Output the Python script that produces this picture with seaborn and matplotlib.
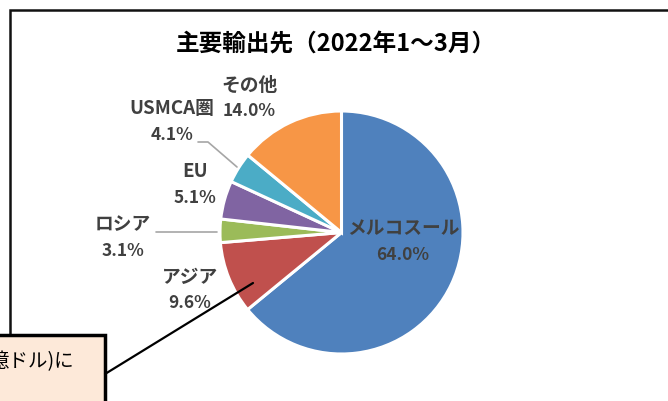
import matplotlib.pyplot as plt
import seaborn as sns
from matplotlib.patches import Rectangle

# data
labels = ["メルコスール", "アジア", "ロシア", "EU", "USMCA圏", "その他"]
shares = [64.0, 9.6, 3.1, 5.1, 4.1, 14.0]
colors = ["#4F81BD", "#C0504D", "#9BBB59", "#8064A2", "#4BACC6", "#F79646"]

# label centres in pixels (x, y from top) as in the original layout
label_pos = [(403, 229), (190, 277), (123, 225), (195, 172), (172, 109), (249, 85)]

W, H = 668, 401
sns.set_theme(style="white")
plt.rcParams["font.family"] = ["Noto Sans CJK JP", "DejaVu Sans"]

fig = plt.figure(figsize=(W / 100, H / 100), dpi=100)
fig.patch.set_facecolor("white")

def fx(px):
    return px / W

def fy(py):
    return 1 - py / H

# pie axes: centre (341.5, 232.5), radius 121.5 px
cx, cy, r = 341.5, 232.5, 121.5
ax = fig.add_axes([fx(cx - r), fy(cy + r), 2 * r / W, 2 * r / H])
ax.pie(shares, colors=colors, startangle=90, counterclock=False,
       radius=1, wedgeprops=dict(edgecolor="white", linewidth=2.2))
ax.set_xlim(-1, 1)
ax.set_ylim(-1, 1)
ax.set_axis_off()

# outer chart frame
fig.patches.append(Rectangle((fx(10), fy(420)), fx(700), fy(9.5) - fy(420),
                             transform=fig.transFigure, fill=False,
                             edgecolor="#111111", linewidth=1.8, clip_on=False))

fig.text(fx(336), fy(45), "主要輸出先（2022年1～3月）", ha="center", va="center",
         fontsize=17, fontweight="bold", color="black")

txt = "#404040"
for name, val, (px, py) in zip(labels, shares, label_pos):
    fig.text(fx(px), fy(py), name, ha="center", va="center",
             fontsize=13.5, fontweight="bold", color=txt)
    fig.text(fx(px), fy(py + 26), f"{val:.1f}%", ha="center", va="center",
             fontsize=12.5, fontweight="bold", color=txt)

# leader lines
gray = "#A6A6A6"
fig.add_artist(plt.Line2D([fx(198), fx(208), fx(237)], [fy(142), fy(142), fy(167)],
                          color=gray, linewidth=1.2))
fig.add_artist(plt.Line2D([fx(156), fx(217)], [fy(232), fy(232)],
                          color=gray, linewidth=1.2))

# callout box cut by the image edge
fig.add_artist(plt.Line2D([fx(105), fx(253)], [fy(374), fy(283)],
                          color="black", linewidth=1.6))
fig.patches.append(Rectangle((fx(-20), fy(420)), fx(125), fy(335) - fy(420),
                             transform=fig.transFigure, facecolor="#FDE9D9",
                             edgecolor="black", linewidth=2.5, clip_on=False))
fig.text(fx(74), fy(362), "億ドル)に", ha="right", va="center",
         fontsize=14, color="black")

fig.savefig("out.png", dpi=100)
